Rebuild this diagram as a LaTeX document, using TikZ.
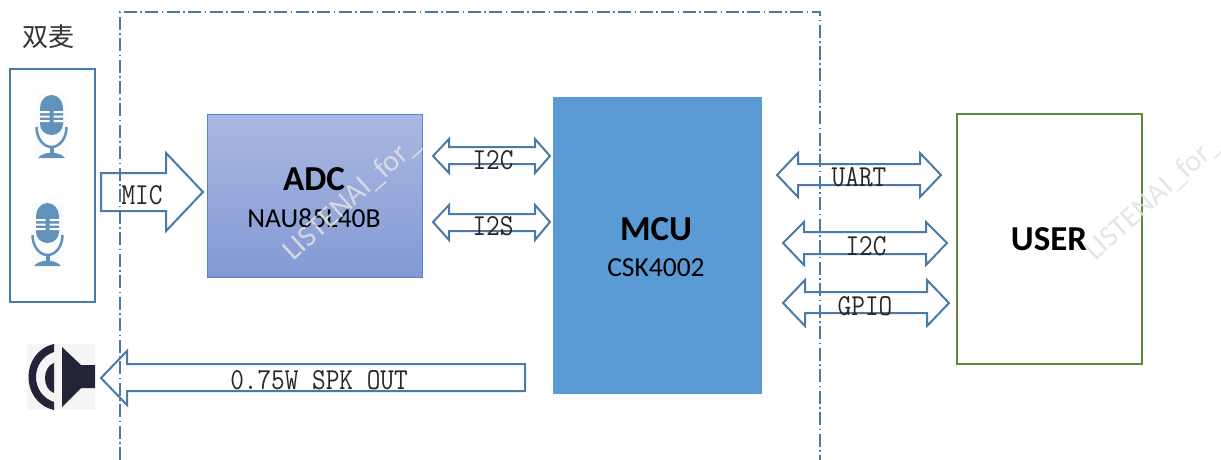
\documentclass[tikz,border=0pt]{standalone}
\usepackage{fontspec}
\usepackage{xcolor}
\usepackage{tikz}
\setmainfont{Carlito}
\newfontfamily\cjk{Noto Sans CJK SC}
\definecolor{steelline}{RGB}{74,123,167}
\definecolor{micblue}{RGB}{98,145,188}
\definecolor{adcline}{RGB}{84,130,210}
\definecolor{adctop}{RGB}{170,185,225}
\definecolor{adcbottom}{RGB}{130,153,212}
\definecolor{mcublue}{RGB}{91,155,213}
\definecolor{usergreen}{RGB}{95,138,60}
\definecolor{spkdark}{RGB}{36,36,56}
\definecolor{markgray}{RGB}{225,225,225}
\tikzset{
  micicon/.pic={
    \fill[white!96!micblue] (0,0) rectangle (33,64);
    \fill[micblue] (5,14) arc (180:360:11.5 and 13) -- (28,30) arc (0:180:11.5 and 11) -- cycle;
    \foreach \yy in {17,21.5,26} \fill[white] (5,\yy) rectangle (14.5,\yy+2) (18.5,\yy) rectangle (28,\yy+2);
    \draw[micblue, line width=2.5pt] (1.5,33) arc (180:0:15 and 20);
    \fill[micblue] (14.5,52) rectangle (18.5,60);
    \fill[micblue] (3,64) .. controls (8,57) and (25,57) .. (30,64) -- cycle;
  }
}
\begin{document}
\begin{tikzpicture}[
    x=1pt, y=-1pt,
    frameline/.style={draw=steelline, line width=2pt, dash pattern=on 13pt off 3.5pt on 1.5pt off 3.5pt},
    blockarrow/.style={draw=steelline, line width=2pt, line join=miter},
    title/.style={font=\fontsize{35}{35}\selectfont\bfseries, text=black},
    subtitle/.style={font=\fontsize{27.5}{27.5}\selectfont, text=black},
    busname/.style={font=\fontsize{26.5}{26.5}\selectfont\ttfamily, yscale=1.15, text=black!85},
    watermark/.style={font=\fontsize{30}{30}\selectfont, text=markgray, opacity=0.85, rotate=42, anchor=south west, inner sep=0pt}
  ]
  \useasboundingbox (0,0) rectangle (1221,460);

  % dashed frame
  \draw[frameline] (120,460) -- (120,12) -- (820,12) -- (820,460);

  % left side
  \node[font=\fontsize{26}{26}\selectfont\cjk, text=black!80] (dualmic) at (48,37) {双麦};
  \draw[steelline, line width=2pt] (10,69) rectangle (95,302);
  \pic at (35,94) {micicon};
  \pic at (31,202) {micicon};

  % speaker
  \fill[black!4] (27,344) rectangle (95,410);
  \fill[spkdark] (62,347) -- (81,365) -- (95,365) -- (95,388) -- (81,388) -- (62,407) -- cycle;
  \fill[spkdark] (54,344) .. controls (20,352) and (20,402) .. (54,410) -- (54,402) .. controls (30,394) and (30,360) .. (54,352) -- cycle;
  \fill[spkdark] (54,363) .. controls (42,367) and (42,389) .. (54,393) -- cycle;

  % boxes
  \draw[draw=adcline, top color=adctop, bottom color=adcbottom] (207,114) rectangle (422,277);
  \fill[mcublue] (553,97) rectangle (762,394);
  \draw[usergreen, line width=2pt] (957,114) rectangle (1142,364);

  % one way arrows
  \draw[blockarrow] (101,173) -- (166,173) -- (166,153) -- (203,192) -- (166,231) -- (166,211) -- (101,211) -- cycle;
  \draw[blockarrow] (525,364) -- (127,364) -- (127,351) -- (101,378) -- (127,405) -- (127,391) -- (525,391) -- cycle;

  % two way arrows
  \foreach \xa/\xb/\xc/\xd/\ya/\yb/\yc/\yd/\ye in {
      433/449/535/550/139/147/156/164/173,
      433/449/535/550/205/214/222/231/240,
      777/798/920/941/153/164/175/185/197,
      783/804/926/947/222/232/243/254/265,
      783/805/927/949/280/292/303/313/326} {
    \draw[blockarrow] (\xa,\yc) -- (\xb,\ya) -- (\xb,\yb) -- (\xc,\yb) -- (\xc,\ya) -- (\xd,\yc)
      -- (\xc,\ye) -- (\xc,\yd) -- (\xb,\yd) -- (\xb,\ye) -- cycle;
  }

  % labels
  \node[busname] (mic) at (142,195) {MIC};
  \node[busname] (spkout) at (319,380) {0.75W SPK OUT};
  \node[busname] (adci2c) at (493,160) {I2C};
  \node[busname] (adci2s) at (493,226) {I2S};
  \node[busname] (uart) at (859,177) {UART};
  \node[busname] (useri2c) at (866,246) {I2C};
  \node[busname] (gpio) at (865,306) {GPIO};
  \node[title] (adc) at (314,179) {ADC};
  \node[subtitle] (adcpart) at (314,218) {NAU85L40B};
  \node[title] (mcu) at (656,229) {MCU};
  \node[subtitle] (mcupart) at (656,268) {CSK4002};
  \node[title] (user) at (1049,239) {USER};

  % watermarks
  \node[watermark] (markadc) at (296,265) {LISTENAI\_for\_};
  \node[watermark] (markuser) at (1098,265) {LISTENAI\_for\_};
\end{tikzpicture}
\end{document}
